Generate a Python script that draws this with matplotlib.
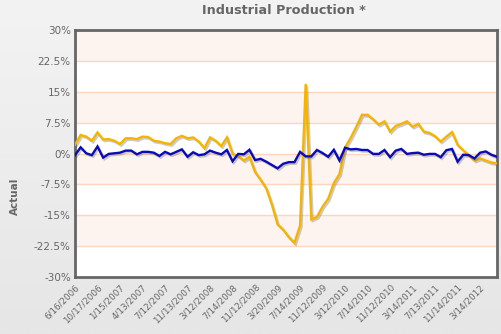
import matplotlib
matplotlib.use("Agg")
import matplotlib.pyplot as plt
import matplotlib.patheffects as pe
import numpy as np

# Release dates shown on the category axis (every 4th observation)
tick_labels = ["6/16/2006", "10/17/2006", "1/15/2007", "4/13/2007", "7/12/2007",
               "11/13/2007", "3/12/2008", "7/14/2008", "11/12/2008", "3/20/2009",
               "7/14/2009", "11/12/2009", "3/12/2010", "7/14/2010", "11/12/2010",
               "3/14/2011", "7/13/2011", "11/14/2011", "3/14/2012"]

# Month-over-month change (%)
actual_mom = [-0.4, 1.5, 0.05, -0.4, 1.7, -1.0, -0.1, 0.05, 0.2, 0.7,
              0.7, -0.2, 0.4, 0.4, 0.2, -0.6, 0.4, -0.2, 0.4, 1.0,
              -0.8, 0.3, -0.4, -0.2, 0.7, 0.2, -0.2, 0.85, -1.9, -0.1,
              -0.2, 0.9, -1.6, -1.3, -2.0, -2.8, -3.6, -2.5, -2.1, -2.1,
              0.4, -0.7, -0.7, 0.85, 0.1, -0.8, 0.9, -1.7, 1.4, 1.0,
              1.1, 0.85, 0.85, -0.1, -0.1, 0.85, -0.9, 0.7, 1.1, -0.1,
              0.1, 0.2, -0.3, -0.1, -0.1, -0.9, 0.8, 1.1, -2.0, -0.3,
              -0.4, -1.2, 0.2, 0.5, -0.3, -0.8]

# Year-over-year change (%)
actual_yoy = [2.1, 4.5, 4.1, 3.1, 5.1, 3.4, 3.5, 3.1, 2.3, 3.7,
              3.7, 3.5, 4.1, 4.0, 3.1, 2.9, 2.5, 2.3, 3.7, 4.3,
              3.7, 3.9, 2.9, 1.3, 3.9, 3.1, 1.8, 3.9, -0.1, -0.6,
              -1.7, -0.8, -4.5, -6.4, -8.5, -12.5, -17.2, -18.5, -20.3, -21.7,
              -17.5, 16.9, -16.0, -15.4, -12.9, -11.0, -7.2, -5.0, 1.5, 3.8,
              6.5, 9.4, 9.4, 8.3, 7.0, 7.8, 5.3, 6.7, 7.2, 7.8,
              6.5, 7.2, 5.3, 5.0, 4.2, 2.9, 4.1, 5.2, 2.1, 0.8,
              -0.4, -1.7, -1.2, -1.7, -2.2, -2.4]

y_ticks = [-30, -22.5, -15, -7.5, 0, 7.5, 15, 22.5, 30]

fig = plt.figure(figsize=(5.01, 3.34), dpi=100)
fig.patch.set_facecolor("#eeeeee")

# soft vertical gradient behind everything
bg = fig.add_axes([0, 0, 1, 1], zorder=-10)
grad = np.linspace(0, 1, 256).reshape(-1, 1)
bg.imshow(grad, aspect="auto", cmap=matplotlib.colors.LinearSegmentedColormap.from_list(
    "bg", ["#f3f3f3", "#e6e6e6"]), extent=[0, 1, 0, 1])
bg.axis("off")

ax = fig.add_axes([75 / 501, 1 - 277 / 334, (497 - 75) / 501, (277 - 30) / 334])
ax.set_facecolor("white")

x = np.arange(len(actual_yoy))
ax.set_xlim(0, len(x) - 1)
ax.set_ylim(-30, 30)

# alternating horizontal bands and grid lines
for k in range(len(y_ticks) - 1):
    lo, hi = y_ticks[k], y_ticks[k + 1]
    if k % 2 == 1:
        ax.axhspan(lo, hi, color="#fdf3ef", zorder=0, lw=0)
for yv in y_ticks[1:-1]:
    ax.axhline(yv, color="#fdd5c0", lw=1.0, zorder=1)

shadow = [pe.SimpleLineShadow(offset=(1.0, -1.2), shadow_color="#555555", alpha=0.3),
          pe.Normal()]
ax.plot(x, actual_yoy, color="#f4b400", lw=1.7, zorder=3, path_effects=shadow,
        solid_joinstyle="miter")
ax.plot(x, actual_mom, color="#0a0ab8", lw=1.7, zorder=4, path_effects=shadow,
        solid_joinstyle="miter")

ax.set_yticks(y_ticks)
ax.set_yticklabels([f"{v:g}%" for v in y_ticks], color="#666666", fontsize=7.5)
ax.set_xticks(x[::4])
ax.set_xticklabels(tick_labels, rotation=45, ha="right", rotation_mode="anchor",
                   color="#666666", fontsize=6.3)
ax.tick_params(axis="both", length=0, pad=3)
ax.tick_params(axis="x", pad=4)

for sp in ax.spines.values():
    sp.set_color("#666666")
    sp.set_linewidth(2.0)

fig.text(15 / 501, 1 - 196 / 334, "Actual", rotation=90, ha="center", va="center",
         color="#666666", fontsize=7.5, fontweight="bold")
fig.text(284 / 501, 1 - 11 / 334, "Industrial Production *", ha="center", va="center",
         color="#666666", fontsize=9.2, fontweight="bold")

fig.savefig("out.png", dpi=100)
